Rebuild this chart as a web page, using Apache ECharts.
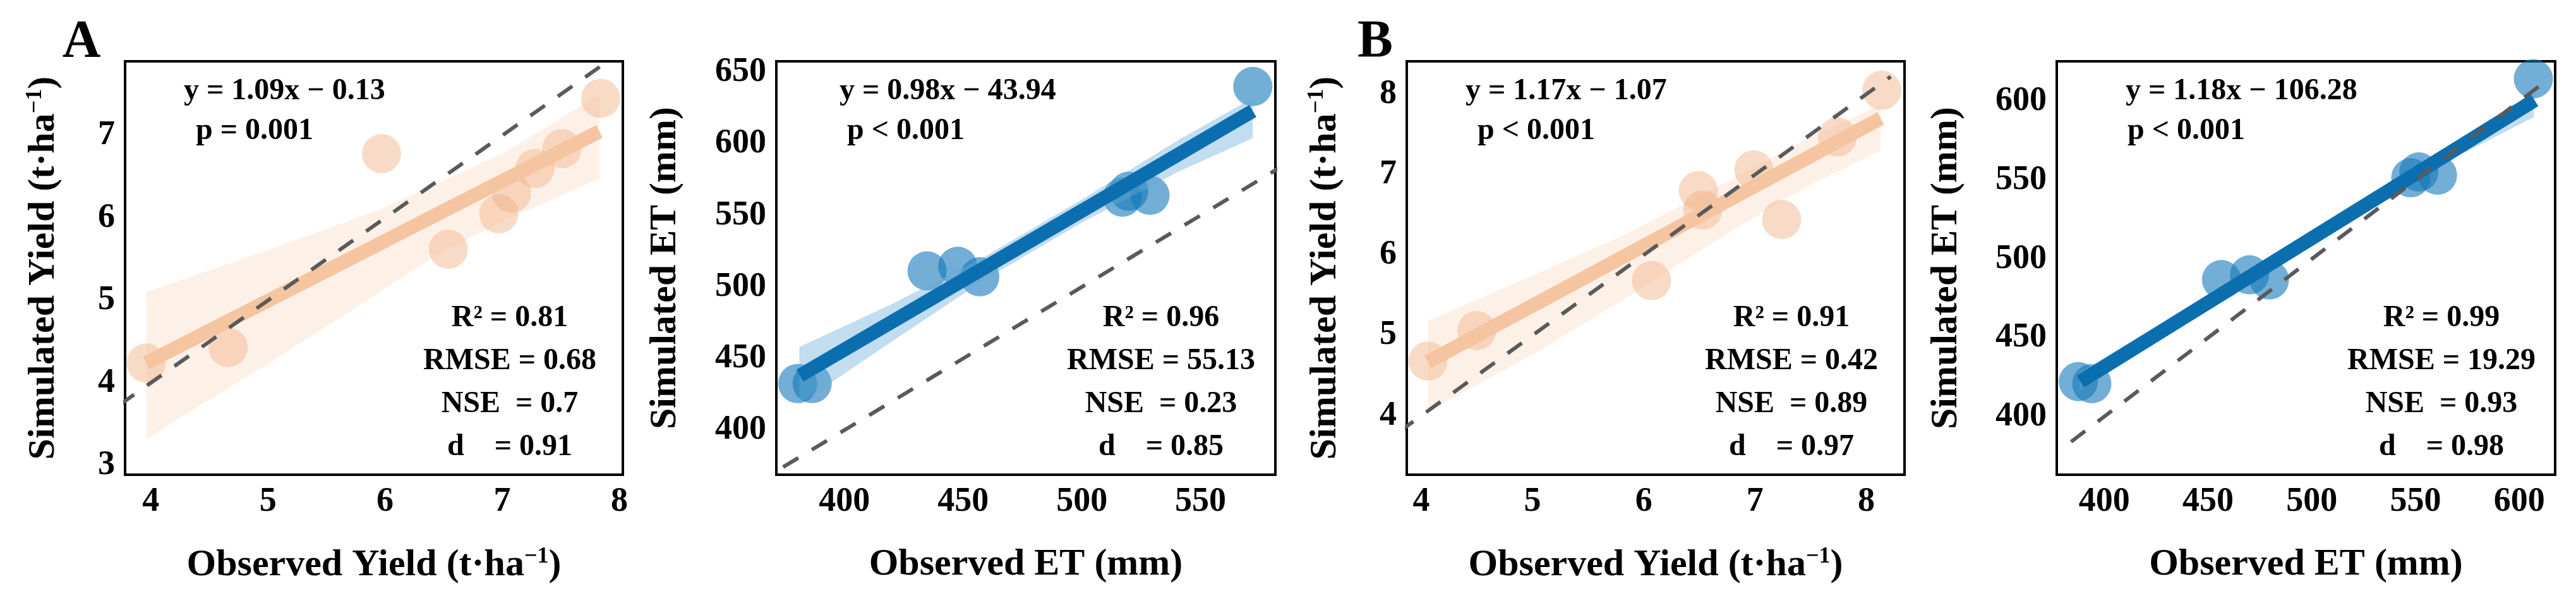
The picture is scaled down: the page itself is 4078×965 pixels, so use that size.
<!DOCTYPE html>
<html>
<head>
<meta charset="utf-8">
<script src="https://cdn.jsdelivr.net/npm/echarts@6/dist/echarts.min.js"></script>
<style>
html, body {margin:0; padding:0; background:#fff;}
#main {width:4078px; height:965px;}
</style>
</head>
<body>
<div id="main"></div>
<script>
// panel A, yield
var obsYieldA = [3.96, 4.66, 5.97, 6.54, 6.97, 7.08, 7.28, 7.51, 7.84];
var simYieldA = [4.24, 4.43, 6.78, 5.62, 6.05, 6.30, 6.60, 6.84, 7.45];
var fitYieldA = [[3.96, 4.24], [7.83, 7.05]];
var bandYieldA_upX = [3.96, 4.94, 5.95, 6.50, 7.04, 7.83];
var bandYieldA_up  = [5.10, 5.58, 6.10, 6.45, 6.81, 7.50];
var bandYieldA_loX = [3.96, 4.40, 5.02, 5.64, 6.16, 6.50, 7.04, 7.83];
var bandYieldA_lo  = [3.31, 3.71, 4.25, 4.81, 5.30, 5.60, 5.98, 6.48];
var oneToOneA = [3.5, 8.5];

// panel A, ET
var obsETA = [380.3, 386.4, 434.8, 447.7, 457.0, 517.1, 519.7, 528.7, 572.0];
var simETA = [432.5, 432.5, 511.2, 514.4, 507.1, 562.7, 566.8, 564.0, 640.0];
var fitETA = [[381.2, 438.0], [572.0, 622.9]];
var bandETA_x  = [381, 420, 460, 500, 540, 572];
var bandETA_up = [458, 488, 522, 561, 602, 632];
var bandETA_lo = [418, 462, 506, 545, 580, 604];
var oneToOneETA = [350, 600];

// panel B, yield
var obsYieldB = [4.06, 4.50, 6.07, 6.49, 6.53, 6.99, 7.24, 7.74, 8.14];
var simYieldB = [4.68, 5.06, 5.68, 6.80, 6.56, 7.06, 6.44, 7.47, 8.05];
var fitYieldB = [[4.06, 4.67], [8.13, 7.70]];
var bandYieldB_x  = [4.06, 5.01, 5.87, 6.73, 7.45, 8.13];
var bandYieldB_up = [5.18, 5.75, 6.28, 6.90, 7.43, 7.87];
var bandYieldB_lo = [4.05, 4.77, 5.49, 6.25, 6.84, 7.30];
var oneToOneB = [3.8, 8.22];

// panel B, ET
var obsETB = [387.5, 394.0, 456.5, 470.0, 479.6, 547.7, 551.6, 560.6, 606.8];
var simETB = [422.2, 420.9, 486.9, 489.9, 486.7, 551.5, 555.2, 553.2, 614.3];
var fitETB = [[388.5, 422.2], [607.4, 600.7]];
var bandETB_x  = [388, 430, 480, 530, 570, 607];
var bandETB_up = [428, 461, 501, 541, 575, 606];
var bandETB_lo = [416, 451, 493, 534, 565, 590];
var oneToOneETB = [384, 615];

// tick labels
var ticksYieldA_x = [4, 5, 6, 7, 8];
var ticksYieldA_y = [3, 4, 5, 6, 7];
var ticksETA_x = [400, 450, 500, 550];
var ticksETA_y = [400, 450, 500, 550, 600, 650];
var ticksYieldB_x = [4, 5, 6, 7, 8];
var ticksYieldB_y = [4, 5, 6, 7, 8];
var ticksETB_x = [400, 450, 500, 550, 600];
var ticksETB_y = [400, 450, 500, 550, 600];

// annotation texts
var eqTexts = ['y = 1.09x \u2212 0.13', 'y = 0.98x \u2212 43.94', 'y = 1.17x \u2212 1.07', 'y = 1.18x \u2212 106.28'];
var pTexts = ['p = 0.001', 'p < 0.001', 'p < 0.001', 'p < 0.001'];
var statTexts = [
  ['R\u00b2 = 0.81', 'RMSE = 0.68', 'NSE  = 0.7', 'd    = 0.91'],
  ['R\u00b2 = 0.96', 'RMSE = 55.13', 'NSE  = 0.23', 'd    = 0.85'],
  ['R\u00b2 = 0.91', 'RMSE = 0.42', 'NSE  = 0.89', 'd    = 0.97'],
  ['R\u00b2 = 0.99', 'RMSE = 19.29', 'NSE  = 0.93', 'd    = 0.98']
];

var FONT = '"Liberation Serif", "Times New Roman", serif';
var ORANGE = {pt: 'rgba(240,172,128,0.55)', line: '#F5C4A0', band: 'rgba(245,185,145,0.22)'};
var BLUE = {pt: 'rgba(20,120,185,0.75)', line: '#0B6EAF', band: 'rgba(100,170,215,0.40)'};

function zip(a, b) { return a.map(function (v, k) { return [v, b[k]]; }); }

var panels = [
  {grid: {left: 198, top: 97, width: 788, height: 654}, xr: [3.78, 8.03], yr: [2.885, 7.90],
   xt: ticksYieldA_x, yt: ticksYieldA_y, pts: zip(obsYieldA, simYieldA), fit: fitYieldA,
   up: zip(bandYieldA_upX, bandYieldA_up), lo: zip(bandYieldA_loX, bandYieldA_lo), one: oneToOneA,
   c: ORANGE, xname: 'Observed Yield (t\u00b7ha{sup|\u22121})', yname: 'Simulated Yield (t\u00b7ha{sup|\u22121})', ygap: 98, eqDx: 93},
  {grid: {left: 1229, top: 97, width: 790, height: 654}, xr: [371.3, 581.5], yr: [368.8, 657.6],
   xt: ticksETA_x, yt: ticksETA_y, pts: zip(obsETA, simETA), fit: fitETA,
   up: zip(bandETA_x, bandETA_up), lo: zip(bandETA_x, bandETA_lo), one: oneToOneETA,
   c: BLUE, xname: 'Observed ET (mm)', yname: 'Simulated ET (mm)', ygap: 146, eqDx: 100},
  {grid: {left: 2227, top: 97, width: 788, height: 654}, xr: [3.87, 8.344], yr: [3.266, 8.41],
   xt: ticksYieldB_x, yt: ticksYieldB_y, pts: zip(obsYieldB, simYieldB), fit: fitYieldB,
   up: zip(bandYieldB_x, bandYieldB_up), lo: zip(bandYieldB_x, bandYieldB_lo), one: oneToOneB,
   c: ORANGE, xname: 'Observed Yield (t\u00b7ha{sup|\u22121})', yname: 'Simulated Yield (t\u00b7ha{sup|\u22121})', ygap: 98, eqDx: 93},
  {grid: {left: 3256, top: 97, width: 789, height: 654}, xr: [377.1, 617.3], yr: [363.1, 625.4],
   xt: ticksETB_x, yt: ticksETB_y, pts: zip(obsETB, simETB), fit: fitETB,
   up: zip(bandETB_x, bandETB_up), lo: zip(bandETB_x, bandETB_lo), one: oneToOneETB,
   c: BLUE, xname: 'Observed ET (mm)', yname: 'Simulated ET (mm)', ygap: 145, eqDx: 109}
];

var nameRich = {sup: {fontSize: 36, fontWeight: 'bold', fontFamily: FONT, padding: [0, 0, 26, 0]}};
var labelStyle = {fontSize: 54, fontWeight: 'bold', fontFamily: FONT, color: '#000'};

var grids = [], xAxes = [], yAxes = [], series = [], graphics = [];

panels.forEach(function (p, i) {
  grids.push(Object.assign({show: true, borderColor: '#000', borderWidth: 4, backgroundColor: '#fff'}, p.grid));
  xAxes.push({
    type: 'value', gridIndex: i, min: p.xr[0], max: p.xr[1],
    axisLine: {show: false}, axisTick: {show: false}, splitLine: {show: false},
    axisLabel: Object.assign({customValues: p.xt, margin: 16}, labelStyle),
    name: p.xname, nameLocation: 'middle', nameGap: 112,
    nameTextStyle: {fontSize: 60, fontWeight: 'bold', fontFamily: FONT, color: '#000', rich: nameRich}
  });
  yAxes.push({
    type: 'value', gridIndex: i, min: p.yr[0], max: p.yr[1],
    axisLine: {show: false}, axisTick: {show: false}, splitLine: {show: false},
    axisLabel: Object.assign({customValues: p.yt, margin: 16}, labelStyle),
    name: p.yname, nameLocation: 'middle', nameGap: p.ygap,
    nameTextStyle: {fontSize: 60, fontWeight: 'bold', fontFamily: FONT, color: '#000', rich: nameRich}
  });

  series.push({
    type: 'scatter', xAxisIndex: i, yAxisIndex: i, data: p.pts,
    symbol: 'circle', symbolSize: 62, itemStyle: {color: p.c.pt}, z: 2, silent: true
  });
  series.push({
    type: 'custom', xAxisIndex: i, yAxisIndex: i, data: [p.up[0]], z: 3, silent: true,
    renderItem: (function (up, lo, fill) {
      return function (params, api) {
        var pts = up.map(function (d) { return api.coord(d); })
          .concat(lo.slice().reverse().map(function (d) { return api.coord(d); }));
        return {type: 'polygon', shape: {points: pts}, style: {fill: fill}};
      };
    })(p.up, p.lo, p.c.band)
  });
  series.push({
    type: 'line', xAxisIndex: i, yAxisIndex: i, data: p.fit, symbol: 'none', z: 4, silent: true,
    lineStyle: {color: p.c.line, width: 22, cap: 'butt'}
  });
  series.push({
    type: 'line', xAxisIndex: i, yAxisIndex: i, data: [[p.one[0], p.one[0]], [p.one[1], p.one[1]]],
    symbol: 'none', z: 5, silent: true, clip: true,
    lineStyle: {color: '#5a5a5a', width: 6, type: [28, 25], cap: 'butt'}
  });

  var gl = p.grid.left;
  graphics.push({type: 'text', x: gl + p.eqDx, y: 145, z: 10,
    style: {text: eqTexts[i], fontSize: 48, fontWeight: 'bold', fontFamily: FONT, fill: '#000', align: 'left', verticalAlign: 'middle'}});
  graphics.push({type: 'text', x: gl + 112, y: 208, z: 10,
    style: {text: pTexts[i], fontSize: 48, fontWeight: 'bold', fontFamily: FONT, fill: '#000', align: 'left', verticalAlign: 'middle'}});
  graphics.push({type: 'text', x: gl + 609, y: 606, z: 10,
    style: {text: statTexts[i].join('\n'), fontSize: 48, lineHeight: 68, fontWeight: 'bold', fontFamily: FONT, fill: '#000', align: 'center', verticalAlign: 'middle'}});
});

graphics.push({type: 'text', x: 129, y: 68, style: {text: 'A', fontSize: 84, fontWeight: 'bold', fontFamily: FONT, fill: '#000', align: 'center', verticalAlign: 'middle'}});
graphics.push({type: 'text', x: 2177, y: 68, style: {text: 'B', fontSize: 84, fontWeight: 'bold', fontFamily: FONT, fill: '#000', align: 'center', verticalAlign: 'middle'}});

var chart = echarts.init(document.getElementById('main'));
chart.setOption({
  animation: false,
  backgroundColor: '#fff',
  grid: grids,
  xAxis: xAxes,
  yAxis: yAxes,
  series: series,
  graphic: graphics
});
</script>
</body>
</html>
